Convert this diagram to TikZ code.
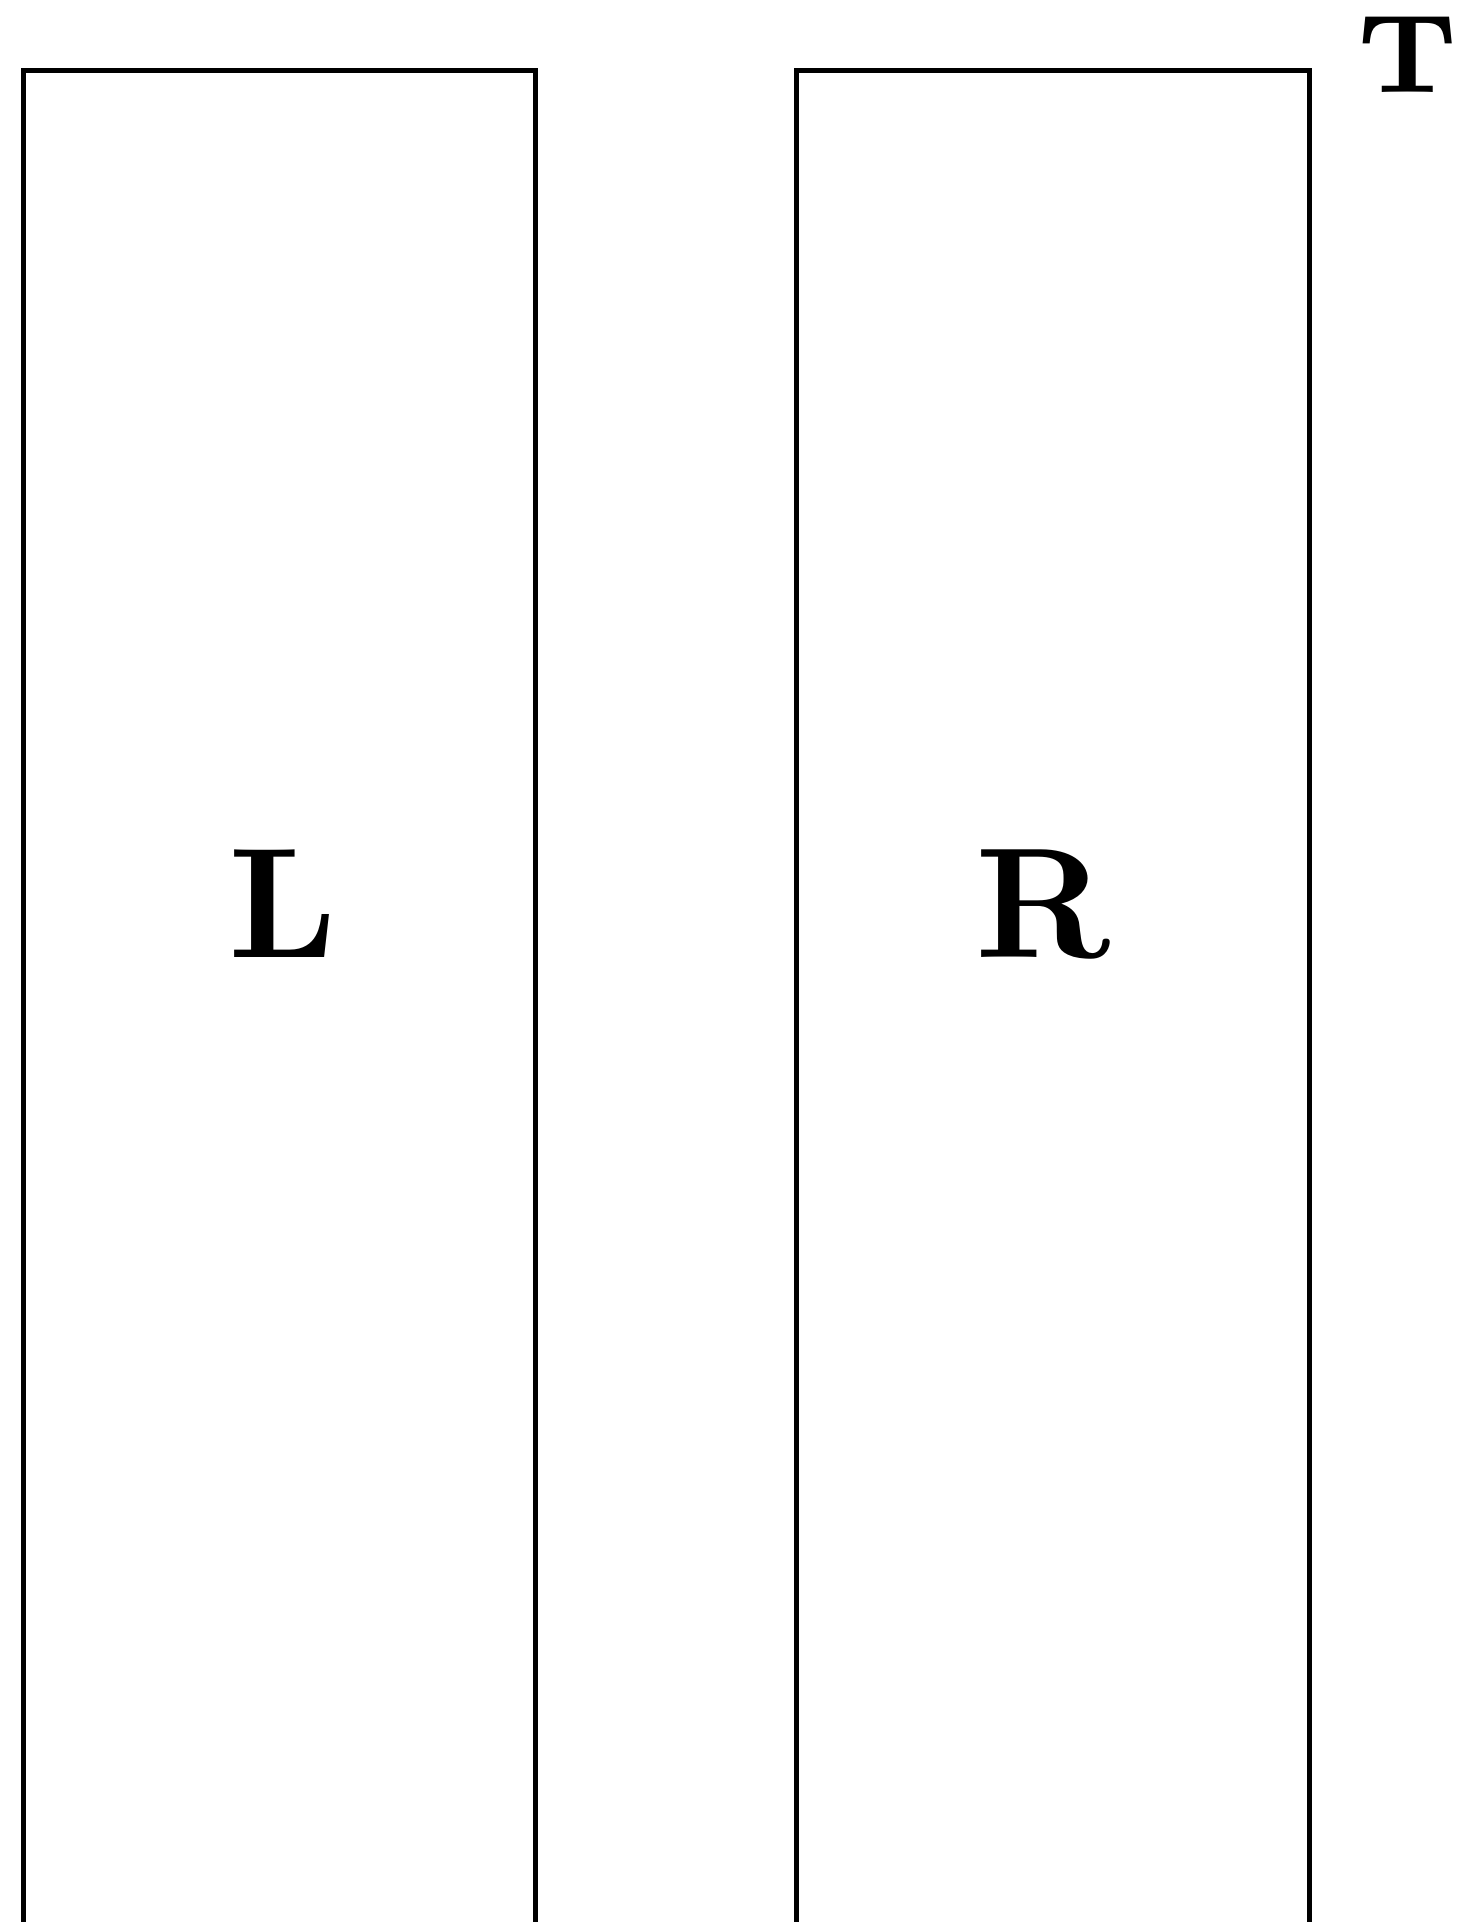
\documentclass[tikz,border=0pt]{standalone}
\font\bigbx="[lmroman10-bold.otf]" at 157pt
\font\midbx="[lmroman7-bold.otf]" at 112pt
\begin{document}
\begin{tikzpicture}[x=1pt,y=-1pt,
  panel/.style={draw=black,line width=5pt,rectangle,inner sep=0pt,minimum width=512.2pt,minimum height=1853.5pt},
  biglabel/.style={anchor=base,inner sep=0pt,font=\bigbx},
  toplabel/.style={anchor=base,inner sep=0pt,font=\midbx}]
\useasboundingbox (0,0) rectangle (1460,1922);
\node[panel] (leftbox) at (279.6,997.25) {};
\node[panel] (rightbox) at (1053,997.25) {};
\node[biglabel] (llabel) at (282.8,957.7) {L};
\node[biglabel] (rlabel) at (1043,957.7) {R};
\node[toplabel] (tlabel) at (1408,92.7) {T};
\end{tikzpicture}
\end{document}
